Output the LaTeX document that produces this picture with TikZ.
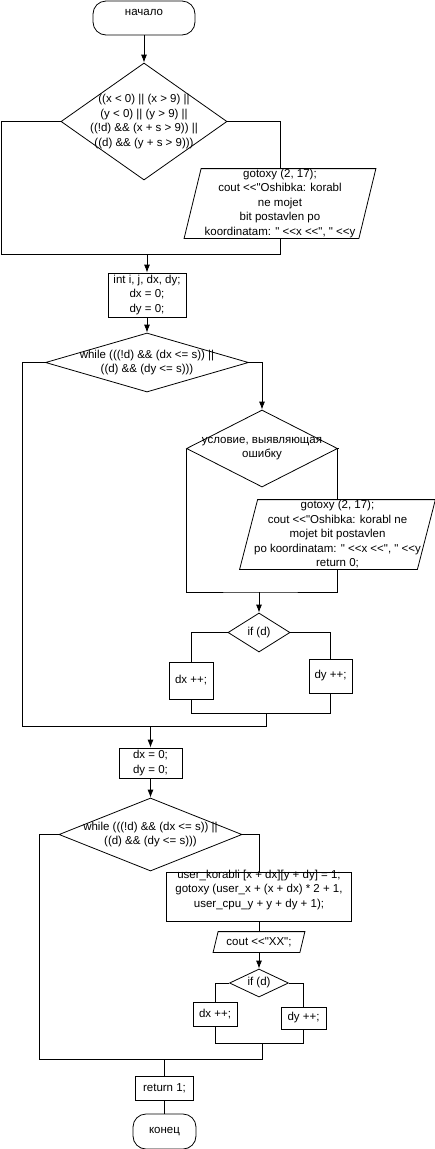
\documentclass[tikz,border=0pt]{standalone}
\usepackage{fontspec}
\setmainfont{Liberation Sans}[Ligatures=TeXOff]
\usetikzlibrary{shapes.geometric,arrows.meta,positioning}

\tikzset{
  every node/.style={font=\fontsize{11.5}{14.5}\selectfont, align=center},
  blk/.style={draw, rectangle, inner sep=1pt},
  term/.style={draw, rectangle, rounded corners=13pt},
  cond/.style={draw, diamond, inner sep=0pt},
  io/.style={rectangle, inner sep=0pt},
  txt/.style={inner sep=0pt, align=center},
  arr/.style={-{Latex[length=8pt,width=6pt]}}
}
% slanted frame round an io node
\newcommand\ioframe[2]{\draw ([xshift=#2]#1.north west) -- (#1.north east) -- ([xshift=-#2]#1.south east) -- (#1.south west) -- cycle;}

\begin{document}
\begin{tikzpicture}[x=1pt,y=-1pt,line width=0.8pt]
    \useasboundingbox (0,0) rectangle (435,1149);

    % check of the coordinates
    \node[term, minimum width=102pt, minimum height=34pt, label={[txt,yshift=6pt]center:начало}] (start) at (144,18) {};
    \node[cond, minimum width=166pt, minimum height=117pt,
      label={[txt]center:{((x < 0) || (x > 9) ||\\ (y < 0) || (y > 9) ||\\ ((!d) \&\& (x + s > 9)) ||\\ ((d) \&\& (y + s > 9)))}}] (c1) at (144,121.5) {};
    \node[io, minimum width=191pt, minimum height=69pt] (o1) at (280,203.5)
      {gotoxy (2, 17);\\ cout <<"Oshibka: korabl\\ ne mojet\\ bit postavlen po\\ koordinatam: " <<x <<", " <<y};
    \ioframe{o1}{17pt}
    \node[blk, minimum width=78pt, minimum height=44pt] (b1) at (147,295) {int i, j, dx, dy;\\ dx = 0;\\ dy = 0;};

    \coordinate (l1) at (1,254);
    \coordinate (m1) at (147,254);
    \draw[arr] (start) -- (c1);
    \draw (c1.west) -| (l1) -| (o1.south);
    \draw (c1.east) -| (o1.north);
    \draw[arr] (m1) -- (b1);

    % first loop
    \node[cond, minimum width=203pt, minimum height=59pt,
      label={[txt]center:{while (((!d) \&\& (dx <= s)) ||\\ ((d) \&\& (dy <= s)))}}] (c2) at (147,362.5) {};
    \node[cond, minimum width=151pt, minimum height=77pt,
      label={[txt]center:{условие, выявляющая\\ ошибку}}] (c3) at (262,448.5) {};
    \node[io, minimum width=195pt, minimum height=69pt] (o2) at (337.5,534.5)
      {gotoxy (2, 17);\\ cout <<"Oshibka: korabl ne\\ mojet bit postavlen\\ po koordinatam: " <<x <<", " <<y\\ return 0;};
    \ioframe{o2}{18pt}
    \node[cond, minimum width=62pt, minimum height=39pt, label={[txt]center:if (d)}] (c4) at (259,632.5) {};
    \node[blk, minimum width=44pt, minimum height=37pt] (d1) at (191,680.5) {dx ++;};
    \node[blk, minimum width=43pt, minimum height=34pt] (d2) at (330.5,676) {dy ++;};
    \node[blk, minimum width=63pt, minimum height=30pt] (b2) at (150.5,763) {dx = 0;\\ dy = 0;};

    \coordinate (m3) at (259,592);
    \coordinate (m4) at (266,713);
    \coordinate (l2) at (22,726);
    \coordinate (m5) at (266,726);
    \coordinate (m6) at (150.5,726);
    \draw[arr] (b1) -- (c2);
    \draw[arr] (c2.east) -| (c3.north);
    \draw (c3.east) -| (o2.north);
    \draw (c3.west) |- (m3) -| (o2.south);
    \draw[arr] (m3) -- (c4);
    \draw (c4.west) -| (d1.north);
    \draw (c4.east) -| (d2.north);
    \draw (d1.south) |- (m4) -| (d2.south);
    \draw (c2.west) -| (l2) -- (m5) -- (m4);
    \draw[arr] (m6) -- (b2);

    % second loop
    \node[cond, minimum width=183pt, minimum height=73pt,
      label={[txt]center:{while (((!d) \&\& (dx <= s)) ||\\ ((d) \&\& (dy <= s)))}}] (c5) at (150.5,834.5) {};
    \node[blk, minimum width=185pt, minimum height=49pt,
      label={[txt,yshift=6.5pt]center:{user\_korabli [x + dx][y + dy] = 1;\\ gotoxy (user\_x + (x + dx) * 2 + 1,\\ user\_cpu\_y + y + dy + 1);}}] (b3) at (259,896.5) {};
    \node[io, minimum width=91pt, minimum height=20pt] (o3) at (259,942) {cout <<"XX";};
    \ioframe{o3}{5pt}
    \node[cond, minimum width=59pt, minimum height=28pt, label={[txt]center:if (d)}] (c6) at (259,983) {};
    \node[blk, minimum width=44pt, minimum height=24pt] (d3) at (215,1014) {dx ++;};
    \node[blk, minimum width=45pt, minimum height=22pt] (d4) at (303.5,1018) {dy ++;};
    \node[blk, minimum width=58pt, minimum height=24pt] (b4) at (164.5,1088) {return 1;};
    \node[term, minimum width=63pt, minimum height=35pt] (stop) at (164.5,1131.5) {конец};

    \coordinate (m7) at (262,1043);
    \coordinate (l3) at (39,1059);
    \coordinate (m8) at (262,1059);
    \coordinate (m9) at (164.5,1059);
    \draw[arr] (b2) -- (c5);
    \draw (c5.east) -| (b3.north);
    \draw (b3) -- (o3);
    \draw[arr] (o3) -- (c6);
    \draw (c6.west) -| (d3.north);
    \draw (c6.east) -| (d4.north);
    \draw (d3.south) |- (m7) -| (d4.south);
    \draw (c5.west) -| (l3) -- (m8) -- (m7);
    \draw (m9) -- (b4);
    \draw (b4) -- (stop);
\end{tikzpicture}
\end{document}
